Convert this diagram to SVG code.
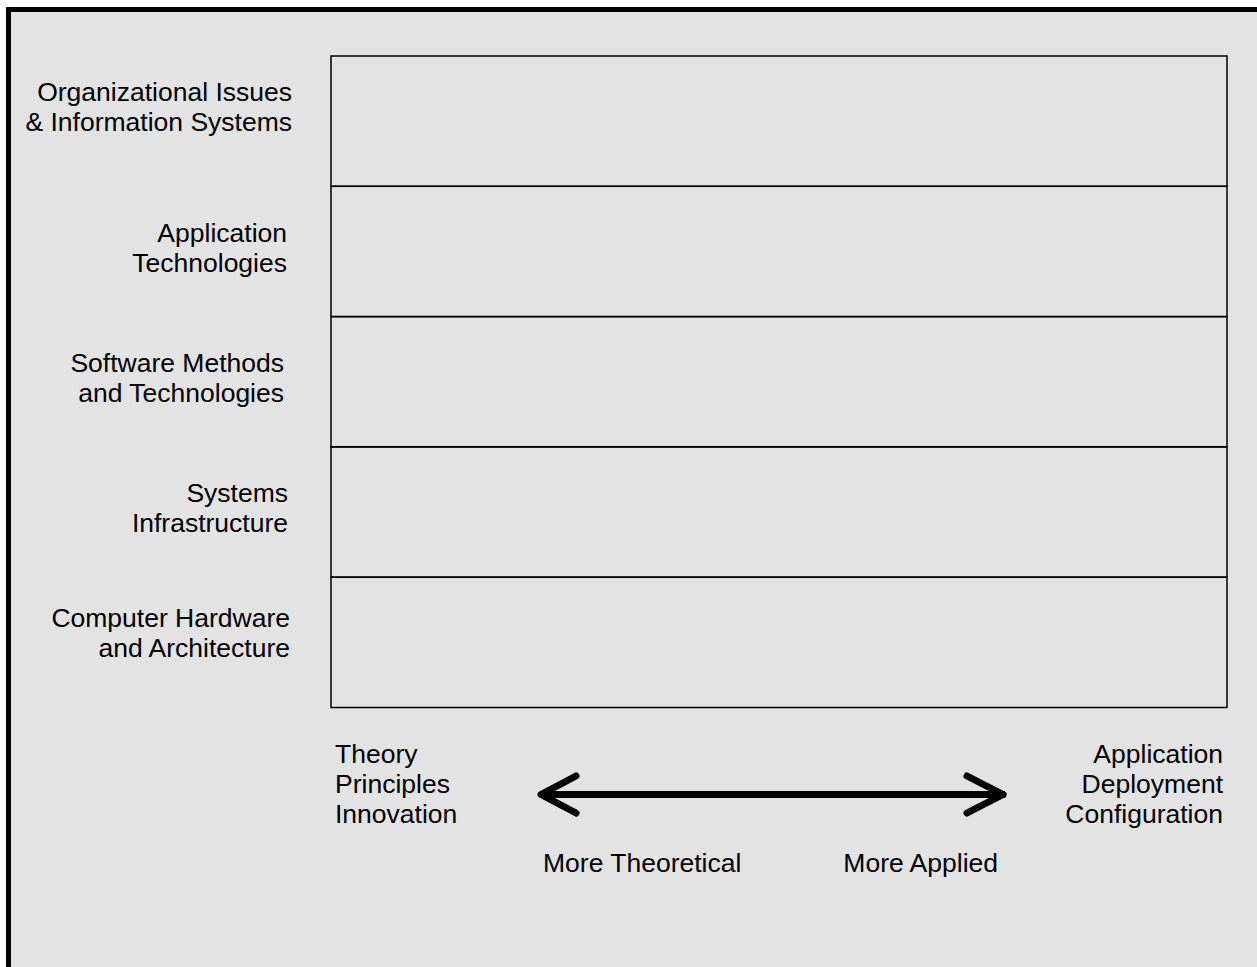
<svg xmlns="http://www.w3.org/2000/svg" width="1257" height="967" viewBox="0 0 1257 967">
  <style>
    .lbl { font-family: "Liberation Sans", Arial, sans-serif; font-size: 26.5px; fill: #000; }
    .end { text-anchor: end; }
    .row { fill: none; stroke: #000; stroke-width: 1.5; }
    .arrow { fill: none; stroke: #000; stroke-width: 7; stroke-linecap: round; stroke-linejoin: round; }
  </style>
  <rect x="0" y="0" width="1257" height="967" fill="#ffffff"/>
  <rect id="frame" x="8.5" y="9.5" width="1260" height="970" fill="#e3e3e3" stroke="#000" stroke-width="5"/>

  <g id="row-org">
    <rect class="row" x="331" y="56" width="896" height="130.3"/>
    <text class="lbl end" x="292" y="100.5">Organizational Issues</text>
    <text class="lbl end" x="292" y="130.5">&amp; Information Systems</text>
  </g>
  <g id="row-app">
    <rect class="row" x="331" y="186.3" width="896" height="130.3"/>
    <text class="lbl end" x="287" y="242">Application</text>
    <text class="lbl end" x="287" y="272">Technologies</text>
  </g>
  <g id="row-sw">
    <rect class="row" x="331" y="316.6" width="896" height="130.3"/>
    <text class="lbl end" x="284" y="371.5">Software Methods</text>
    <text class="lbl end" x="284" y="401.5">and Technologies</text>
  </g>
  <g id="row-sys">
    <rect class="row" x="331" y="446.9" width="896" height="130.3"/>
    <text class="lbl end" x="288" y="502">Systems</text>
    <text class="lbl end" x="288" y="532">Infrastructure</text>
  </g>
  <g id="row-hw">
    <rect class="row" x="331" y="577.2" width="896" height="130.3"/>
    <text class="lbl end" x="290" y="627">Computer Hardware</text>
    <text class="lbl end" x="290" y="657">and Architecture</text>
  </g>

  <g id="theory">
    <text class="lbl" x="335" y="763">Theory</text>
    <text class="lbl" x="335" y="793">Principles</text>
    <text class="lbl" x="335" y="823">Innovation</text>
  </g>
  <g id="applied">
    <text class="lbl end" x="1223" y="763">Application</text>
    <text class="lbl end" x="1223" y="793">Deployment</text>
    <text class="lbl end" x="1223" y="823">Configuration</text>
  </g>
  <g id="axis-labels">
    <text class="lbl" x="543" y="872">More Theoretical</text>
    <text class="lbl end" x="998" y="872">More Applied</text>
  </g>

  <g id="connectors">
    <line class="arrow" x1="542" y1="794.5" x2="1003" y2="794.5"/>
    <polyline class="arrow" points="576,776 541,794.5 576,813"/>
    <polyline class="arrow" points="967,776 1003,794.5 967,813"/>
  </g>
</svg>
